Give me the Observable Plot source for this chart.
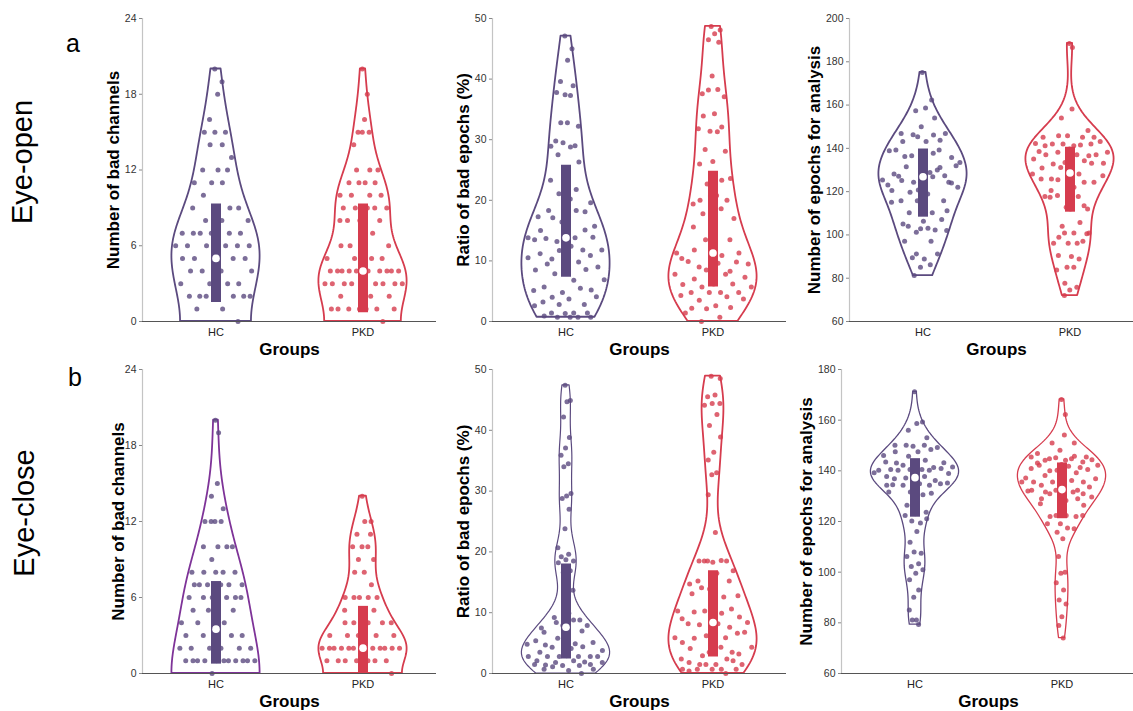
<!DOCTYPE html>
<html><head><meta charset="utf-8">
<script src="https://cdn.jsdelivr.net/npm/d3@7"></script>
<script src="https://cdn.jsdelivr.net/npm/@observablehq/plot@0.6"></script>
<style>
body{margin:0;background:#fff;font-family:"Liberation Sans",Arial,sans-serif}
#fig{position:relative;width:1133px;height:711px;overflow:hidden;background:#fff}
.p{position:absolute}
.t{position:absolute;color:#000;white-space:nowrap;line-height:1}
.rot{transform:translate(-50%,-50%) rotate(-90deg)}
.ctr{transform:translate(-50%,-50%)}
</style></head>
<body><div id="fig"></div>
<script>
const groups = ["HC", "PKD"];

// ---- Eye-open ----
const eoChannelsTicks = [0, 6, 12, 18, 24];
const eoChannelsHC = [20,19,18,16,15,15,15,14,14,13,12,12,12,11,11,11,10,9,9,9,9,8,8,8,7,7,7,7,7,7,6,6,6,6,6,6,6,5,5,5,5,5,4,4,4,4,3,3,3,3,2,2,2,2,2,2,2,1,1,0];
const eoChannelsPKD = [20,18,16,15,15,15,14,12,12,12,11,11,11,11,10,10,10,10,9,9,9,9,9,9,8,8,8,8,7,6,6,6,6,5,5,5,5,4,4,4,4,4,4,4,4,4,4,4,3,3,3,3,3,3,3,3,3,2,2,2,1,1,1,1,1,1,1,0];
const eoChannelsQ1 = [1.5, 0.7], eoChannelsMedian = [5, 4], eoChannelsQ3 = [9.3, 9.3];

const eoEpochsTicks = [0, 10, 20, 30, 40, 50];
const eoEpochsHC = [47.1,45.0,43.1,39.6,38.9,37.4,37.8,37.3,32.8,32.2,32.8,29.8,29.0,29.5,28.9,28.8,27.5,26.3,24.6,23.3,21.8,21.1,19.6,20.2,18.3,18.1,16.4,17.3,18.3,17.1,15.7,15.4,15.0,15.1,13.2,13.8,13.8,13.7,13.9,13.3,13.5,11.8,10.3,11.8,12.4,11.2,10.9,11.7,10.5,9.8,9.5,9.0,8.3,8.5,8.6,7.9,6.9,6.8,5.7,5.2,4.8,5.1,5.5,4.0,4.1,3.7,3.2,2.8,2.8,2.6,1.4,1.4,1.4,1.3,0.9,0.7,0.7,0.7,0.7];
const eoEpochsPKD = [48.7,48.1,47.5,46.5,46.1,40.5,37.6,38.3,38.2,37.1,34.3,33.9,32.1,31.4,31.8,31.3,28.4,28.1,26.4,26.0,23.3,22.7,23.6,20.8,20.0,20.0,20.7,19.4,18.6,17.8,17.0,16.2,15.6,13.5,13.5,11.3,10.9,11.8,11.3,11.7,10.4,8.3,9.0,9.5,9.6,9.9,9.8,8.5,7.8,7.8,7.0,7.3,6.2,6.1,6.2,5.7,5.7,4.8,4.8,4.8,4.8,4.3,4.1,3.5,3.7,2.6,2.2,2.3,2.1,1.4,0.7,0];
const eoEpochsQ1 = [7.3, 5.7], eoEpochsMedian = [13.8, 11.3], eoEpochsQ3 = [25.8, 24.8];

const eoAnalysisTicks = [60, 80, 100, 120, 140, 160, 180, 200];
const eoAnalysisHC = [175.1,162.3,158.6,157.4,154.0,150.0,146.9,146.2,146.3,146.9,143.2,143.2,143.8,145.4,138.9,137.7,136.2,135.8,135.8,139.2,139.2,136.6,133.5,128.9,127.1,124.3,120.8,123.1,130.0,131.5,132.0,134.0,128.2,127.4,124.3,125.4,126.9,125.1,124.0,121.2,120.5,131.2,119.7,122.0,118.9,115.8,115.8,115.8,115.1,110.2,110.2,111.2,106.3,105.1,102.3,101.2,102.0,103.1,104.0,107.1,102.8,97.1,97.1,91.2,91.2,88.9,89.4,86.2,85.1,81.2];
const eoAnalysisPKD = [188.5,186.6,158.2,154.0,148.2,145.8,145.1,145.1,145.8,143.2,141.2,141.2,142.0,142.0,142.3,141.5,142.0,145.1,139.7,138.6,136.6,138.2,138.2,137.1,137.1,137.1,133.5,135.1,134.3,132.8,133.1,130.5,130.9,133.1,131.2,128.2,128.2,125.8,124.3,123.5,125.8,124.3,125.5,127.4,122.0,120.5,113.5,112.8,117.8,117.8,118.2,112.0,112.0,117.4,105.8,100.9,100.9,100.9,98.9,97.1,96.2,96.2,96.2,104.0,100.5,90.0,90.5,88.9,85.1,83.8,85.1,77.7,75.8,74.6,72.0];
const eoAnalysisQ1 = [108.2, 110.5], eoAnalysisMedian = [126.9, 128.6], eoAnalysisQ3 = [139.7, 140.5];

// ---- Eye-close ----
const ecChannelsTicks = [0, 6, 12, 18, 24];
const ecChannelsHC = [20,19,15,14,13,12,12,12,12,10,10,10,10,9,8,8,8,8,8,7,7,7,7,7,7,6,6,6,6,6,6,5,5,5,5,4,4,4,3,3,3,3,3,2,2,2,2,2,2,1,1,1,1,1,1,1,1,1,1,1,0];
const ecChannelsPKD = [14,12,12,11,11,10,10,10,9,9,8,8,7,6,6,6,6,6,5,5,5,4,4,4,4,4,3,3,3,3,3,3,2,2,2,2,2,2,2,2,2,2,2,2,1,1,1,1,1,1,1,0];
const ecChannelsQ1 = [0.74, 0], ecChannelsMedian = [3.5, 2.0], ecChannelsQ3 = [7.26, 5.3];

const ecEpochsTicks = [0, 10, 20, 30, 40, 50];
const ecEpochsHC = [47.4,44.9,44.7,42.2,38.8,37.1,35.9,34.5,34.0,29.6,29.2,28.8,27.0,23.8,20.7,19.6,19.2,18.5,18.7,18.2,16.9,16.6,13.7,9.9,9.2,8.8,7.9,7.5,8.8,8.4,7.9,7.7,6.8,7.0,5.8,4.8,4.9,4.7,5.1,4.8,5.4,4.4,4.3,3.8,4.1,3.5,2.8,2.8,2.8,2.8,2.8,2.8,2.9,2.1,1.9,1.8,1.8,2.1,1.4,1.5,1.3,1.5,1.3,1.1,0.7,0.5,0.7,0];
const ecEpochsPKD = [48.9,48.5,45.8,45.5,44.4,44.4,44.1,42.6,40.8,38.9,36.4,35.1,33.0,32.7,29.4,23.2,18.5,18.5,18.3,18.5,18.6,18.5,16.9,16.5,15.2,15.2,13.9,14.7,12.6,14.1,12.8,11.2,13.1,10.6,10.3,10.3,9.9,10.1,9.3,8.2,9.0,7.6,8.0,8.4,8.2,8.2,6.6,6.2,5.9,5.9,5.8,6.8,4.8,5.1,3.5,2.9,4.3,4.3,4.1,3.2,3.5,2.4,2.4,1.5,1.5,1.5,1.8,2.1,1.5,0.7,0.7,0.7,0.7,0.7,0.4,0];
const ecEpochsQ1 = [2.4, 2.7], ecEpochsMedian = [7.6, 8.4], ecEpochsQ3 = [18.0, 16.9];

const ecAnalysisTicks = [60, 80, 100, 120, 140, 160, 180];
const ecAnalysisHC = [171.2,159.3,158.7,156.0,153.1,149.7,150.1,150.1,150.1,149.2,147.5,147.5,148.4,145.8,146.1,144.2,143.1,143.2,143.2,143.5,141.3,142.2,141.5,140.5,140.5,140.9,140.5,140.2,140.2,140.2,138.9,138.2,137.8,136.2,137.2,139.2,137.8,136.9,134.9,135.2,134.3,134.3,134.3,135.2,134.9,134.5,131.2,131.6,131.6,130.6,126.4,123.7,123.1,122.4,119.4,120.2,121.1,116.1,111.8,107.5,108.0,106.2,103.3,102.2,101.0,99.6,97.0,93.0,90.1,85.1,81.1,81.1,79.3];
const ecAnalysisPKD = [168.2,162.2,154.1,151.0,151.0,148.1,146.8,145.8,144.8,144.4,144.2,143.1,143.5,145.2,145.5,144.8,144.2,145.5,142.5,140.9,141.3,140.0,142.2,141.8,142.2,140.5,140.2,137.2,139.2,138.2,136.9,135.9,135.6,135.6,135.6,135.6,136.2,134.3,133.6,133.6,132.3,132.3,131.0,129.7,128.3,129.0,131.0,132.3,132.0,131.6,131.6,126.4,125.7,127.0,129.0,122.4,122.4,122.4,122.0,122.0,119.1,119.1,117.4,115.8,117.1,113.2,106.2,100.0,99.6,95.8,93.0,89.0,87.4,82.4,78.9,74.0];
const ecAnalysisQ1 = [121.7, 121.1], ecAnalysisMedian = [137.3, 132.6], ecAnalysisQ3 = [144.8, 143.1];

const hcColor = "#5b4a7f", pkdColor = "#d63c4e";

const panels = [
  {hc: eoChannelsHC, pkd: eoChannelsPKD, q1: eoChannelsQ1, med: eoChannelsMedian, q3: eoChannelsQ3, ticks: eoChannelsTicks, label: "Number of bad channels", left: 142, top: 18, h: 303, ldx: 29, sw: [1.8, 1.8], vc: [hcColor, pkdColor], reflect: true},
  {hc: eoEpochsHC, pkd: eoEpochsPKD, q1: eoEpochsQ1, med: eoEpochsMedian, q3: eoEpochsQ3, ticks: eoEpochsTicks, label: "Ratio of bad epochs (%)", left: 492, top: 18, h: 303, ldx: 29, sw: [1.8, 1.8], vc: [hcColor, pkdColor], reflect: false},
  {hc: eoAnalysisHC, pkd: eoAnalysisPKD, q1: eoAnalysisQ1, med: eoAnalysisMedian, q3: eoAnalysisQ3, ticks: eoAnalysisTicks, label: "Number of epochs for analysis", left: 849, top: 18, h: 303, ldx: 35, sw: [1.8, 1.8], vc: [hcColor, pkdColor], reflect: false},
  {hc: ecChannelsHC, pkd: ecChannelsPKD, q1: ecChannelsQ1, med: ecChannelsMedian, q3: ecChannelsQ3, ticks: ecChannelsTicks, label: "Number of bad channels", left: 142, top: 369, h: 304, ldx: 24, sw: [1.8, 1.8], vc: ["#7e3398", pkdColor], reflect: true},
  {hc: ecEpochsHC, pkd: ecEpochsPKD, q1: ecEpochsQ1, med: ecEpochsMedian, q3: ecEpochsQ3, ticks: ecEpochsTicks, label: "Ratio of bad epochs (%)", left: 492, top: 369, h: 304, ldx: 29, sw: [1.2, 1.8], vc: [hcColor, pkdColor], reflect: false},
  {hc: ecAnalysisHC, pkd: ecAnalysisPKD, q1: ecAnalysisQ1, med: ecAnalysisMedian, q3: ecAnalysisQ3, ticks: ecAnalysisTicks, label: "Number of epochs for analysis", left: 841, top: 369, h: 304, ldx: 35, sw: [1.3, 1.3], vc: [hcColor, pkdColor], reflect: false}
];

// kernel density (normal kernel, Silverman/MAD bandwidth), truncated at the data range;
// count panels use a reflected boundary at zero
function makeKde(vals, reflect) {
  const n = vals.length;
  const med = d3.median(vals);
  const mad = d3.median(vals, v => Math.abs(v - med));
  const bw = (mad / 0.6745) * Math.pow(4 / (3 * n), 0.2);
  const K = u => Math.exp(-0.5 * u * u);
  const dens = y => d3.mean(vals, v => K((y - v) / bw) + (reflect ? K((y + v) / bw) : 0));
  const [lo, hi] = d3.extent(vals);
  const grid = d3.range(0, 121).map(i => lo + (hi - lo) * i / 120);
  const d = grid.map(dens);
  const m = d3.max(d);
  return {grid: grid.map((y, i) => ({y, w: d[i] / m * 0.3})), at: y => dens(y) / m * 0.3};
}
const phi = 0.6180339887;
const jit = i => ((i * phi + 0.37) % 1) * 2 - 1;

const fig = document.getElementById("fig");
const mL = 60, mR = 5, mT = 12, mB = 50, innerW = 294;

panels.forEach(cfg => {
  const marks = [];
  const colors = [hcColor, pkdColor];
  const ymin = cfg.ticks[0], ymax = cfg.ticks[cfg.ticks.length - 1];
  marks.push(Plot.ruleX([-0.5], {stroke: "#c4c4c4", strokeWidth: 1.2}));
  [cfg.hc, cfg.pkd].forEach((vals, g) => {
    const k = makeKde(vals, cfg.reflect);
    const outline = k.grid.map(p => ({y: p.y, x1: g - p.w, x2: g + p.w}));
    const pts = vals.map((v, i) => ({v, x: g + jit(i) * 0.93 * k.at(v)}));
    marks.push(Plot.areaX(outline, {y: "y", x1: "x1", x2: "x2", fill: "white", stroke: cfg.vc[g], strokeWidth: cfg.sw[g], strokeLinejoin: "round"}));
    marks.push(Plot.dot(pts, {x: "x", y: "v", r: 2.5, fill: colors[g], fillOpacity: 0.8, stroke: "none"}));
    marks.push(Plot.ruleX([g], {x: d => d, y1: cfg.q1[g], y2: cfg.q3[g], stroke: colors[g], strokeWidth: 10}));
    marks.push(Plot.dot([g], {x: d => d, y: cfg.med[g], r: 3.8, fill: "white", stroke: "none"}));
  });
  marks.push(Plot.ruleY([ymin], {stroke: "#555", strokeWidth: 1.2}));
  marks.push(Plot.axisY({ticks: cfg.ticks, tickSize: 3, tickPadding: 3, fontSize: 10.5, stroke: "#888", fill: "#333", label: null}));
  marks.push(Plot.axisX({ticks: [0, 1], tickFormat: d => groups[d], tickSize: 0, tickPadding: 7, fontSize: 11, fill: "#222", label: null}));
  marks.push(Plot.text([cfg.label], {text: d => d, frameAnchor: "left", textAnchor: "middle", rotate: -90, dx: -cfg.ldx, fontSize: 17, fontWeight: "bold", fill: "#000"}));
  marks.push(Plot.text(["Groups"], {text: d => d, frameAnchor: "bottom", textAnchor: "middle", dy: 21, lineAnchor: "top", fontSize: 17, fontWeight: "bold", fill: "#000"}));
  const svg = Plot.plot({
    width: mL + innerW + mR, height: mT + cfg.h + mB,
    marginLeft: mL, marginRight: mR, marginTop: mT, marginBottom: mB,
    x: {type: "linear", domain: [-0.5, 1.5], axis: null},
    y: {domain: [ymin, ymax], axis: null},
    style: {fontFamily: "Liberation Sans, Arial, sans-serif", background: "transparent", overflow: "visible"},
    marks
  });
  svg.classList.add("p");
  svg.style.left = (cfg.left - mL) + "px";
  svg.style.top = (cfg.top - mT) + "px";
  fig.appendChild(svg);
});

function addText(txt, x, y, size, cls) {
  const d = document.createElement("div");
  d.className = "t " + cls;
  d.textContent = txt;
  d.style.left = x + "px"; d.style.top = y + "px"; d.style.fontSize = size + "px";
  fig.appendChild(d);
}
addText("a", 73, 43, 25, "ctr");
addText("b", 75, 377, 25, "ctr");
addText("Eye-open", 22, 162, 29, "rot");
addText("Eye-close", 24, 513, 29, "rot");
</script></body></html>
